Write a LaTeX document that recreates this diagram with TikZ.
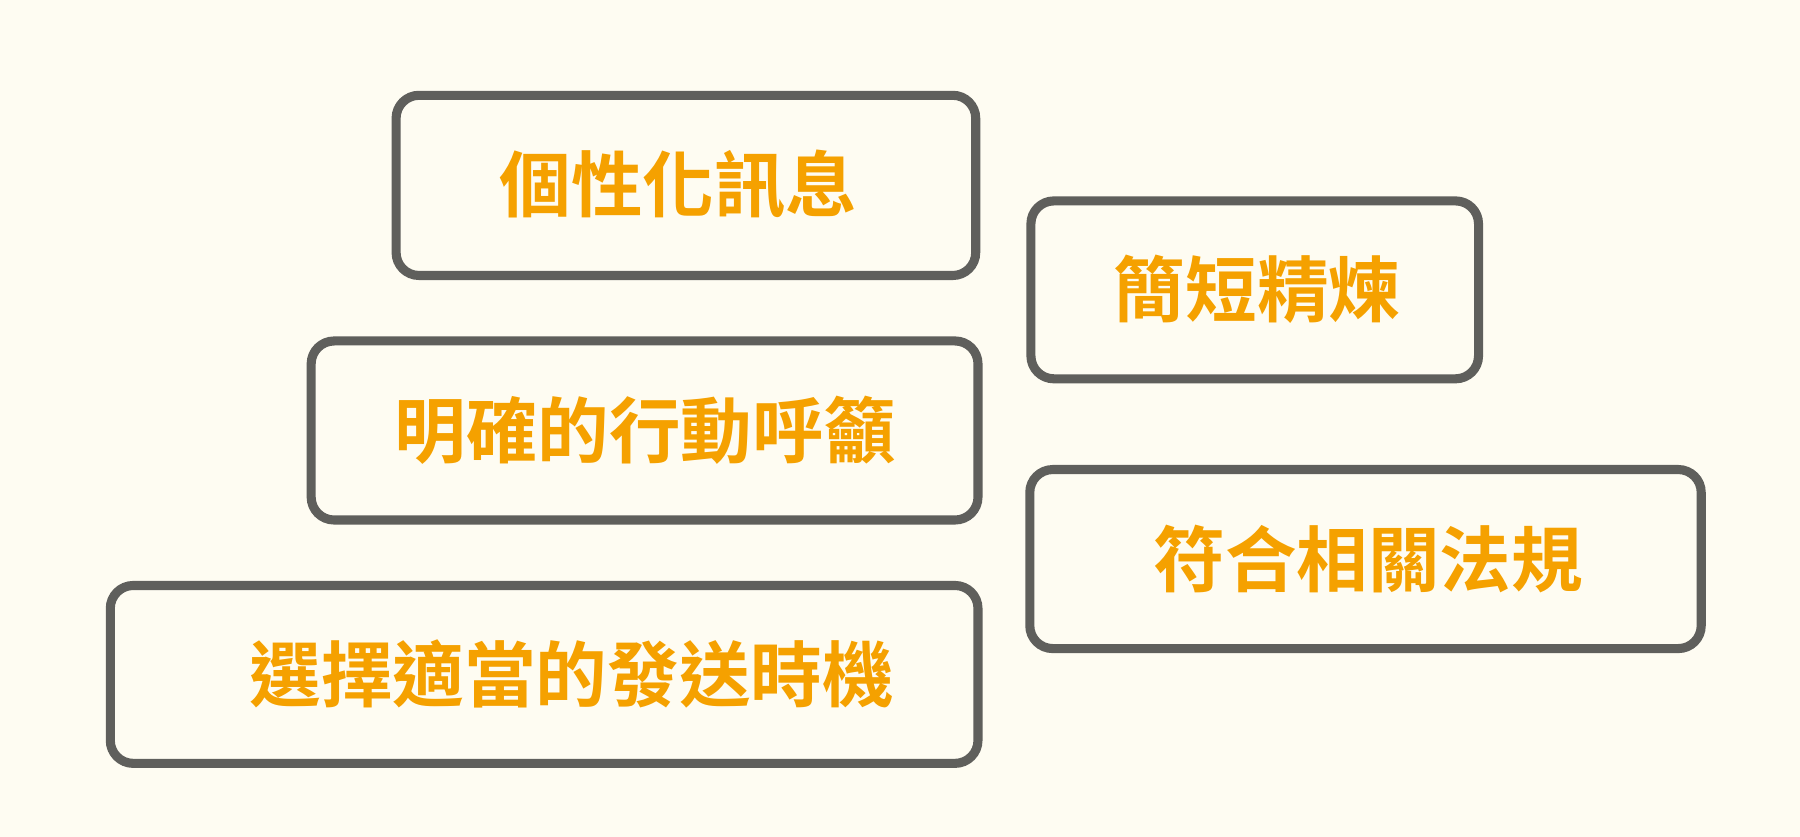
\documentclass[tikz,border=0pt]{standalone}
\usepackage{fontspec}
\newfontfamily\cjk{Noto Sans CJK TC Bold}
\definecolor{bgcream}{HTML}{FEFCF2}
\definecolor{boxgray}{HTML}{5F5F5C}
\definecolor{txtorange}{HTML}{F5A100}
\tikzset{
  tipbox/.style={draw=boxgray, line width=4.5pt, rounded corners=0.4cm, fill=bgcream,
    inner sep=0pt},
  tiptext/.style={text=txtorange, font=\cjk\fontsize{35.5}{40}\selectfont, inner sep=0pt},
}
\begin{document}
\begin{tikzpicture}[x=0.02cm,y=-0.02cm]
  \fill[bgcream] (0,0) rectangle (1568,729);
  \useasboundingbox (0,0) rectangle (1568,729);

  % boxes
  \node[tipbox, minimum width=10.1cm, minimum height=3.14cm] (personal) at (597.5,161.5) {};
  \node[tipbox, minimum width=7.8cm, minimum height=3.1cm] (brief) at (1093,252.5) {};
  \node[tipbox, minimum width=11.62cm, minimum height=3.12cm] (action) at (561.5,375) {};
  \node[tipbox, minimum width=11.7cm, minimum height=3.12cm] (legal) at (1189.5,487) {};
  \node[tipbox, minimum width=15.12cm, minimum height=3.1cm] (timing) at (474,587.5) {};

  % labels
  \node[tiptext] (personaltxt) at (591,161) {個性化訊息};
  \node[tiptext] (brieftxt) at (1095,252) {簡短精煉};
  \node[tiptext] (actiontxt) at (562,375) {明確的行動呼籲};
  \node[tiptext] (legaltxt) at (1192,487) {符合相關法規};
  \node[tiptext] (timingtxt) at (498,587) {選擇適當的發送時機};
\end{tikzpicture}
\end{document}
